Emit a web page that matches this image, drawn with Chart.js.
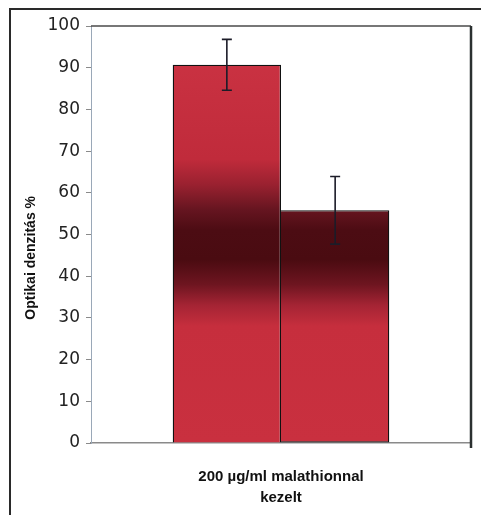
<!DOCTYPE html>
<html>
<head>
<meta charset="utf-8">
<script src="https://cdn.jsdelivr.net/npm/chart.js@4.4.1/dist/chart.umd.min.js"></script>
<style>
  html, body { margin: 0; padding: 0; background: #fff; }
  #wrap { width: 481px; height: 515px; position: relative; }
</style>
</head>
<body>
<div id="wrap"><canvas id="chart" width="481" height="515"></canvas></div>
<script>
const categories = [["200 µg/ml malathionnal", "kezelt"]];
const seriesNames = ["A", "B"];
const values = [90.7, 55.8];
const errors = [6.1, 8.1];
const yTicks = [0, 10, 20, 30, 40, 50, 60, 70, 80, 90, 100];

// vertical shading of the bars (value -> colour)
const shadeStops = [
  [0, "#c9303f"], [28, "#c62e3d"], [33, "#a52434"], [38, "#6e1520"],
  [44, "#4a0b11"], [51, "#4c0c13"], [56, "#661520"], [62, "#9a2130"],
  [68, "#c02b3b"], [100, "#cd3444"]
];

function barFill(ctx) {
  const chart = ctx.chart;
  if (!chart.chartArea) return "#c9303f";
  const y = chart.scales.y;
  const g = chart.ctx.createLinearGradient(0, y.getPixelForValue(0), 0, y.getPixelForValue(100));
  shadeStops.forEach(s => g.addColorStop(s[0] / 100, s[1]));
  return g;
}

const frame = {
  id: "frame",
  beforeDraw(chart) {
    const c = chart.ctx;
    c.save();
    c.strokeStyle = "#2a2a2a";
    c.lineWidth = 2;
    c.beginPath();
    c.moveTo(10, 515);
    c.lineTo(10, 9);
    c.lineTo(481, 9);
    c.stroke();
    c.restore();
  },
  afterDraw(chart) {
    const a = chart.chartArea;
    const c = chart.ctx;
    c.save();
    c.strokeStyle = "#4a4a4a";
    c.lineWidth = 1.5;
    c.beginPath();
    c.moveTo(a.left, a.top);
    c.lineTo(a.right, a.top);
    c.stroke();
    c.strokeStyle = "#2b3030";
    c.lineWidth = 2.5;
    c.beginPath();
    c.moveTo(a.right, a.top);
    c.lineTo(a.right, a.bottom + 5);
    c.stroke();
    c.restore();
  }
};

const errorBars = {
  id: "errorBars",
  afterDatasetsDraw(chart) {
    const c = chart.ctx;
    const y = chart.scales.y;
    c.save();
    c.strokeStyle = "#1c1c28";
    c.lineWidth = 1.6;
    chart.data.datasets.forEach((ds, i) => {
      const bar = chart.getDatasetMeta(i).data[0];
      const v = ds.data[0];
      const e = errors[i];
      const yt = y.getPixelForValue(v + e);
      const yb = y.getPixelForValue(v - e);
      c.beginPath();
      c.moveTo(bar.x, yt); c.lineTo(bar.x, yb);
      c.moveTo(bar.x - 5, yt); c.lineTo(bar.x + 5, yt);
      c.moveTo(bar.x - 5, yb); c.lineTo(bar.x + 5, yb);
      c.stroke();
    });
    c.restore();
  }
};

new Chart(document.getElementById("chart"), {
  type: "bar",
  data: {
    labels: categories,
    datasets: seriesNames.map((name, i) => ({
      label: name,
      data: [values[i]],
      backgroundColor: barFill,
      borderColor: "#111",
      borderWidth: 1.3,
      borderSkipped: i === 0 ? "start" : "left",
      barPercentage: 1,
      categoryPercentage: 0.57
    }))
  },
  options: {
    responsive: false,
    animation: false,
    layout: { padding: { left: 0, right: 10, top: 26, bottom: 0 } },
    plugins: { legend: { display: false }, tooltip: { enabled: false } },
    scales: {
      x: {
        grid: { display: false, drawTicks: false },
        border: { color: "#8a8a8a", width: 1.5 },
        ticks: {
          color: "#111",
          padding: 24,
          font: { family: "Liberation Sans", size: 15, weight: "bold", lineHeight: 1.35 }
        },
        afterFit(s) { s.height = 72; }
      },
      y: {
        min: 0,
        max: 100,
        afterBuildTicks(s) { s.ticks = yTicks.map(v => ({ value: v })); },
        grid: { drawOnChartArea: false, tickLength: 5, color: "#8a8a8a" },
        border: { color: "#9aa8b8", width: 1 },
        ticks: {
          color: "#222",
          padding: 6,
          font: { family: "DejaVu Sans", size: 17 }
        },
        title: {
          display: true,
          text: "Optikai denzitás %            ",
          color: "#111",
          padding: { top: 23, bottom: 0 },
          font: { family: "Liberation Sans", size: 14, weight: "bold" }
        },
        afterFit(s) { s.width = 91; }
      }
    }
  },
  plugins: [frame, errorBars]
});
</script>
</body>
</html>
